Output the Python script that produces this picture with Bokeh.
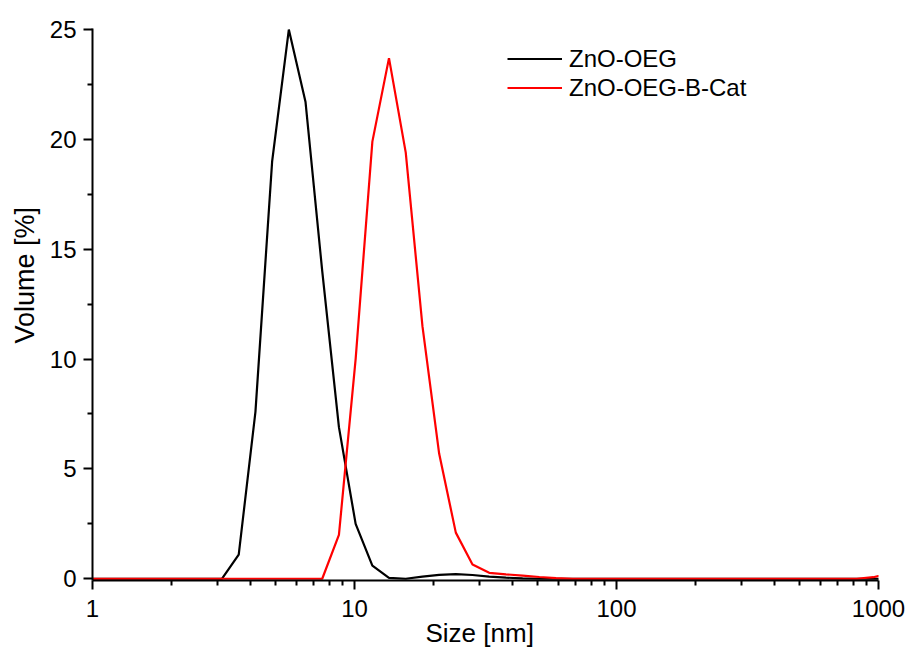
from bokeh.plotting import figure
from bokeh.models import Range1d, FixedTicker, PrintfTickFormatter, Legend, LegendItem, Title
from bokeh.embed import file_html
from bokeh.resources import INLINE

# DLS size bins [nm]
size_nm = [0.965, 1.117, 1.294, 1.499, 1.736, 2.010, 2.328, 2.696, 3.122, 3.615,
           4.187, 4.849, 5.615, 6.503, 7.531, 8.721, 10.10, 11.70, 13.54, 15.69,
           18.17, 21.04, 24.36, 28.21, 32.67, 37.84, 43.82, 50.75, 58.77, 68.06,
           78.82, 91.28, 105.7, 122.4, 141.8, 164.2, 190.1, 220.2, 255.0, 295.3,
           342.0, 396.1, 458.7, 531.2, 615.1, 712.4, 825.0, 955.4, 1106.0]

# Volume [%] ZnO-OEG
vol_oeg = [0, 0, 0, 0, 0, 0, 0, 0, 0, 1.1,
           7.6, 19.0, 25.0, 21.7, 14.0, 6.9, 2.5, 0.6, 0.04, 0.0,
           0.1, 0.18, 0.21, 0.17, 0.1, 0.05, 0.02, 0, 0, 0,
           0, 0, 0, 0, 0, 0, 0, 0, 0, 0,
           0, 0, 0, 0, 0, 0, 0, 0, 0]

# Volume [%] ZnO-OEG-B-Cat
vol_bcat = [0, 0, 0, 0, 0, 0, 0, 0, 0, 0,
            0, 0, 0, 0, 0, 2.0, 10.0, 19.9, 23.7, 19.4,
            11.5, 5.7, 2.1, 0.65, 0.27, 0.2, 0.14, 0.08, 0.03, 0,
            0, 0, 0, 0, 0, 0, 0, 0, 0, 0,
            0, 0, 0, 0, 0, 0, 0, 0.07, 0.25]

series_labels = ["ZnO-OEG", "ZnO-OEG-B-Cat"]
x_title = "Size [nm]"
y_title = "Volume [%]"
x_major = [1, 10, 100, 1000]
x_minor = [2, 3, 4, 5, 6, 7, 8, 9, 20, 30, 40, 50, 60, 70, 80, 90,
           200, 300, 400, 500, 600, 700, 800, 900]
y_major = [0, 5, 10, 15, 20, 25]
y_minor = [2.5, 7.5, 12.5, 17.5, 22.5]

FONT = "Liberation Sans"

p = figure(x_axis_type="log", output_backend="svg", toolbar_location=None,
           frame_width=786, frame_height=552,
           min_border_left=92, min_border_top=28, min_border_right=28, min_border_bottom=70,
           x_range=Range1d(1, 1000), y_range=Range1d(-0.08, 25.05))

p.outline_line_color = None
p.xgrid.visible = False
p.ygrid.visible = False
p.background_fill_color = "white"
p.border_fill_color = "white"

r1 = p.line(size_nm, vol_oeg, line_color="black", line_width=2.2)
r2 = p.line(size_nm, vol_bcat, line_color="#ff0000", line_width=2.2)

p.xaxis.ticker = FixedTicker(ticks=x_major, minor_ticks=x_minor)
p.xaxis.formatter = PrintfTickFormatter(format="%d")
p.yaxis.ticker = FixedTicker(ticks=y_major, minor_ticks=y_minor)

for ax in (p.xaxis, p.yaxis):
    ax.axis_line_width = 2
    ax.axis_line_color = "black"
    ax.major_tick_line_width = 2
    ax.minor_tick_line_width = 2
    ax.major_tick_line_color = "black"
    ax.minor_tick_line_color = "black"
    ax.major_tick_in = 0
    ax.major_tick_out = 9
    ax.minor_tick_in = 0
    ax.minor_tick_out = 5
    ax.major_label_text_font = FONT
    ax.major_label_text_font_size = "24px"
    ax.major_label_text_color = "black"

p.xaxis.major_label_standoff = 10
p.yaxis.major_label_standoff = 7

# axis titles as side titles, so they can sit slightly off-centre like the original
p.add_layout(Title(text=x_title, align="left", offset=333, standoff=-8,
                   text_font=FONT, text_font_size="26px", text_font_style="normal",
                   text_color="black"), "below")
p.add_layout(Title(text=y_title, align="left", offset=237, standoff=13,
                   text_font=FONT, text_font_size="27px", text_font_style="normal",
                   text_color="black"), "left")

legend = Legend(items=[LegendItem(label=series_labels[0], renderers=[r1]),
                       LegendItem(label=series_labels[1], renderers=[r2])],
                location=(415, 478), orientation="vertical",
                glyph_width=55, glyph_height=29, label_height=29, spacing=0,
                label_standoff=7, padding=0, margin=0,
                border_line_color=None, background_fill_alpha=0,
                label_text_font=FONT, label_text_font_size="24px",
                label_text_color="black")
p.add_layout(legend)

open("out.html", "w").write(file_html(p, INLINE))
